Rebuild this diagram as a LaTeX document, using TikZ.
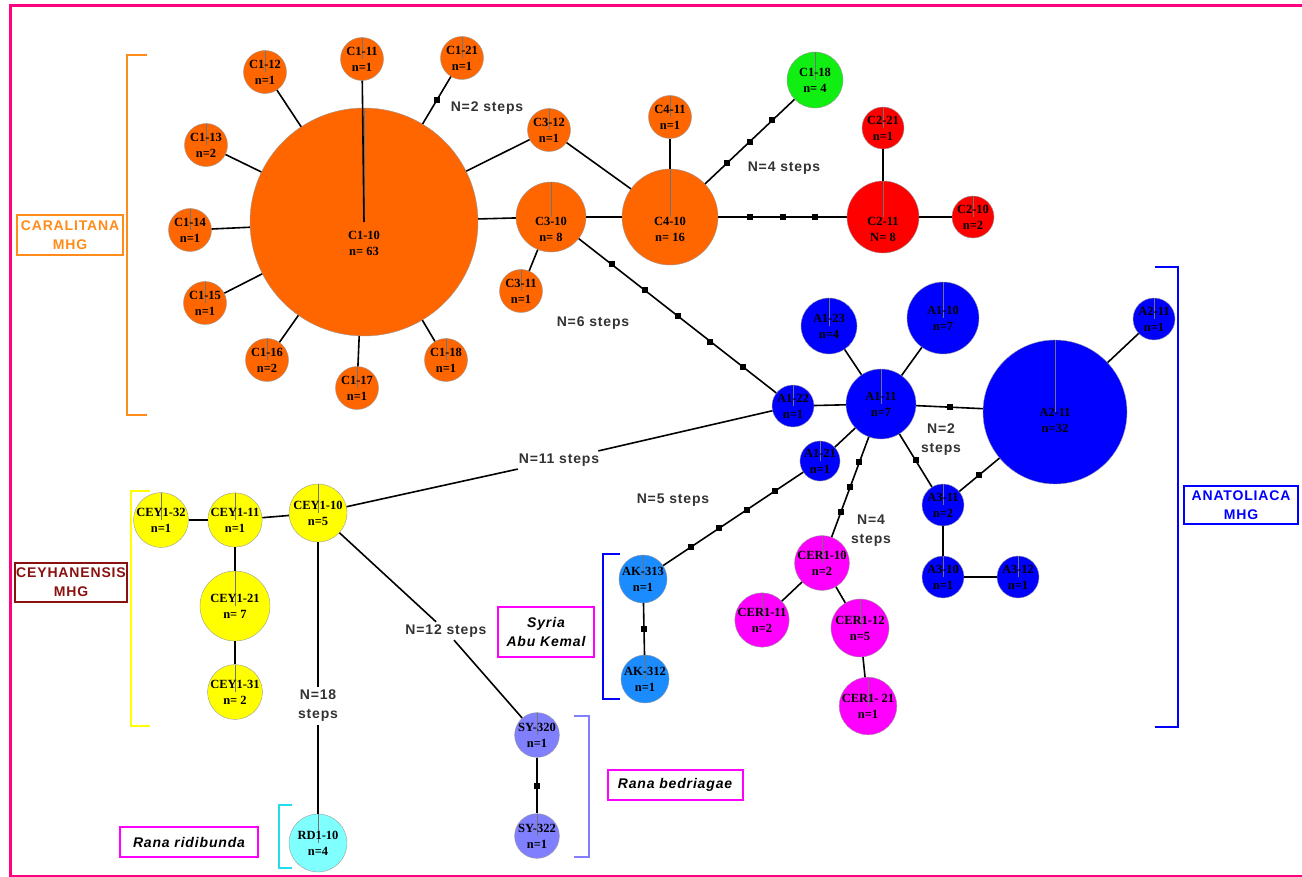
\documentclass[tikz,border=0pt]{standalone}
\usepackage{fontspec}
\setmainfont{Liberation Serif}
\setsansfont{Liberation Sans}
\newfontfamily\stepfont[LetterSpace=6]{Liberation Sans}
\usepackage{tikz}
\usetikzlibrary{positioning}

\definecolor{haporange}{HTML}{FF6600}
\definecolor{hapgreen}{HTML}{11EE11}
\definecolor{hapred}{HTML}{FF0000}
\definecolor{hapblue}{HTML}{0000FF}
\definecolor{hapsky}{HTML}{1A8CFF}
\definecolor{hapmagenta}{HTML}{FF00FF}
\definecolor{hapyellow}{HTML}{FFFF00}
\definecolor{haplilac}{HTML}{8080FF}
\definecolor{hapcyan}{HTML}{80FFFF}
\definecolor{framepink}{HTML}{FF0080}
\definecolor{grporange}{HTML}{FF8C1A}
\definecolor{grpred}{HTML}{8B1010}
\definecolor{brkcyan}{HTML}{22DDEE}

\begin{document}
\begin{tikzpicture}[
		x=1pt,
		y=-1pt,
		line width=1.6pt
		]
		\useasboundingbox (0,0) rectangle (1302,877);
		\tikzstyle{hap}=[
			circle,
			draw=black!40,
			line width=0.4pt,
			inner sep=0pt,
			align=center,
			font=\bfseries\fontsize{12.5}{16}\selectfont,
			path picture={\draw[line width=0.5pt, black!55] (path picture bounding box.north) -- (path picture bounding box.center);}
		]
		\tikzstyle{hap label}=[
			align=center,
			font=\bfseries\fontsize{12.5}{16}\selectfont
		]
		\tikzstyle{orange hap}=[hap, fill=haporange]
		\tikzstyle{green hap}=[hap, fill=hapgreen]
		\tikzstyle{red hap}=[hap, fill=hapred]
		\tikzstyle{blue hap}=[hap, fill=hapblue]
		\tikzstyle{sky hap}=[hap, fill=hapsky]
		\tikzstyle{magenta hap}=[hap, fill=hapmagenta]
		\tikzstyle{yellow hap}=[hap, fill=hapyellow]
		\tikzstyle{lilac hap}=[hap, fill=haplilac]
		\tikzstyle{cyan hap}=[hap, fill=hapcyan]
		\tikzstyle{stepmark}=[
			rectangle,
			fill=black,
			minimum size=6pt,
			inner sep=0pt
		]
		\tikzstyle{steps}=[
			align=center,
			text=black!80,
			inner sep=2pt,
			font=\stepfont\bfseries\fontsize{14}{19}\selectfont
		]
		\tikzstyle{group}=[
			draw,
			line width=2pt,
			align=center,
			inner sep=1pt,
			font=\stepfont\bfseries\fontsize{14}{19}\selectfont
		]
		\tikzstyle{bracket}=[
			line width=2.5pt
		]
		% Draw the frame.
			\draw[framepink, line width=3pt] (1302,6) -- (10,6) -- (10,876) -- (1302,876);
		% Draw the CARALITANA haplotypes.
			\node[orange hap, minimum size=228pt, label={[hap label, yshift=-21pt]center:{C1-10\\n= 63}}] (C1-10) at (364,222) {};
			\foreach \name / \x / \y / \n in {C1-11/362/59/1, C1-12/265/72/1, C1-13/206/145/2, C1-14/190/230/1, C1-15/205/303/1, C1-16/267/360/2, C1-17/357/388/1, C1-18/446/360/1, C1-21/462/58/1, C3-12/549/130/1, C3-11/521/291/1, C4-11/670/117/1}
				\node[orange hap, minimum size=43pt] (\name) at (\x,\y) {\name\\n=\n};
			\node[orange hap, minimum size=70pt, label={[hap label, yshift=-12pt]center:{C3-10\\n= 8}}] (C3-10) at (551,217) {};
			\node[orange hap, minimum size=96pt, label={[hap label, yshift=-12pt]center:{C4-10\\n= 16}}] (C4-10) at (670,217) {};
			\node[green hap, minimum size=56pt] (C1-18g) at (815,80) {C1-18\\n= 4};
			\node[red hap, minimum size=42pt] (C2-21) at (883,128) {C2-21\\n=1};
			\node[red hap, minimum size=72pt, label={[hap label, yshift=-12pt]center:{C2-11\\N= 8}}] (C2-11) at (883,217) {};
			\node[red hap, minimum size=42pt] (C2-10) at (973,217) {C2-10\\n=2};
		% Draw the ANATOLIACA haplotypes.
			\node[blue hap, minimum size=144pt, label={[hap label, yshift=-8pt]center:{A2-11\\n=32}}] (A2-11) at (1055,412) {};
			\foreach \name / \x / \y / \d / \n in {A1-22/793/406/42/1, A1-23/829/326/56/4, A1-11/881/404/70/7, A1-10/943/318/72/7, A1-21/820/461/40/1, A3-11/943/505/42/2, A3-10/943/577/42/1, A3-12/1018/577/42/1}
				\node[blue hap, minimum size=\d pt] (\name) at (\x,\y) {\name\\n=\n};
			\node[blue hap, minimum size=42pt] (A2-11b) at (1154,319) {A2-11\\n=1};
			\node[sky hap, minimum size=42pt] (AK-313) at (643,579) {AK-313\\n=1};
			\node[sky hap, minimum size=42pt] (AK-312) at (645,679) {AK-312\\n=1};
			\node[magenta hap, minimum size=42pt] (CER1-10) at (822,563) {CER1-10\\n=2};
			\node[magenta hap, minimum size=42pt] (CER1-11) at (762,620) {CER1-11\\n=2};
			\node[magenta hap, minimum size=58pt] (CER1-12) at (860,628) {CER1-12\\n=5};
			\node[magenta hap, minimum size=42pt] (CER1-21) at (868,706) {CER1- 21\\n=1};
		% Draw the CEYHANENSIS haplotypes and the outgroups.
			\node[yellow hap, minimum size=42pt] (CEY1-32) at (161,520) {CEY1-32\\n=1};
			\node[yellow hap, minimum size=44pt] (CEY1-11) at (235,520) {CEY1-11\\n=1};
			\node[yellow hap, minimum size=58pt] (CEY1-10) at (318,513) {CEY1-10\\n=5};
			\node[yellow hap, minimum size=70pt] (CEY1-21) at (235,606) {CEY1-21\\n= 7};
			\node[yellow hap, minimum size=44pt] (CEY1-31) at (235,692) {CEY1-31\\n= 2};
			\node[cyan hap, minimum size=58pt] (RD1-10) at (318,843) {RD1-10\\n=4};
			\node[lilac hap, minimum size=42pt] (SY-320) at (537,735) {SY-320\\n=1};
			\node[lilac hap, minimum size=42pt] (SY-322) at (537,836) {SY-322\\n=1};
		% Step labels.
			\node[steps] (n2c) at (487,108) {N=2 steps};
			\node[steps] (n4c) at (784,168) {N=4 steps};
			\node[steps] (n6) at (593,323) {N=6 steps};
			\node[steps] (n2a) at (941,440) {N=2\\steps};
			\node[steps] (n5) at (673,500) {N=5 steps};
			\node[steps] (n4a) at (871,531) {N=4\\steps};
			\node[steps, fill=white] (n11) at (559,460) {N=11 steps};
			\node[steps, fill=white] (n12) at (446,631) {N=12 steps};
			\node[steps, fill=white] (n18) at (318,706) {N=18\\steps};
		% Connect the haplotypes.
			\draw (C1-11) -- (C1-10.center);
			\foreach \source in {C1-12, C1-13, C1-14, C1-15, C1-16, C1-17, C1-18, C3-12, C3-10}
				\draw (\source) -- (C1-10);
			\foreach \source / \target in {C3-10/C3-11, C3-10/C4-10, C3-12/C4-10, C4-11/C4-10, C2-21/C2-11, C2-11/C2-10, A1-22/A1-11, A1-23/A1-11, A1-10/A1-11, A1-21/A1-11, A2-11/A2-11b, A3-11/A3-10, A3-10/A3-12, CER1-10/CER1-11, CER1-10/CER1-12, CER1-12/CER1-21, CEY1-32/CEY1-11, CEY1-11/CEY1-10, CEY1-11/CEY1-21, CEY1-21/CEY1-31}
				\draw (\source) -- (\target);
			\draw (CEY1-10) -- (n11) -- (A1-22);
			\draw (CEY1-10) -- (n12) -- (SY-320);
			\draw (CEY1-10) -- (n18) -- (RD1-10);
		% Connections with intermediate steps.
			\foreach \source / \target in {C1-10/C1-21, A1-11/A2-11, A1-11/A3-11, A3-11/A2-11, AK-313/AK-312, SY-320/SY-322}
				\draw (\source) -- (\target) node[stepmark, pos=0.5] {};
			\draw (C4-10) -- (C1-18g);
			\draw (C4-10) -- (C2-11);
			\draw (C3-10) -- (A1-22);
			\draw (A1-21) -- (AK-313);
			\draw (A1-11) -- (CER1-10);
			\foreach \p in {0.25, 0.5, 0.75} {
				\path (C4-10) -- (C1-18g) node[stepmark, pos=\p] {};
				\path (C4-10) -- (C2-11) node[stepmark, pos=\p] {};
				\path (A1-11) -- (CER1-10) node[stepmark, pos=\p] {};
			}
			\foreach \p in {0.2, 0.4, 0.6, 0.8}
				\path (A1-21) -- (AK-313) node[stepmark, pos=\p] {};
			\foreach \p in {0.1667, 0.3333, 0.5, 0.6667, 0.8333}
				\path (C3-10) -- (A1-22) node[stepmark, pos=\p] {};
		% Draw the groups and their brackets.
			\node[group, draw=grporange, text=grporange, minimum width=106pt, minimum height=40pt] (caralitana) at (70,235) {CARALITANA\\MHG};
			\node[group, draw=grpred, text=grpred, minimum width=111pt, minimum height=39pt] (ceyhanensis) at (71,582) {CEYHANENSIS\\MHG};
			\node[group, draw=hapblue, text=hapblue, minimum width=114pt, minimum height=38pt] (anatoliaca) at (1241,505) {ANATOLIACA\\MHG};
			\node[group, draw=hapmagenta, font=\stepfont\bfseries\itshape\fontsize{14}{19}\selectfont, minimum width=96pt, minimum height=50pt] (syria) at (546,632) {Syria\\Abu Kemal};
			\node[group, draw=hapmagenta, font=\stepfont\bfseries\itshape\fontsize{14}{19}\selectfont, minimum width=135pt, minimum height=30pt] (bedriagae) at (675,785) {Rana bedriagae};
			\node[group, draw=hapmagenta, font=\stepfont\bfseries\itshape\fontsize{14}{19}\selectfont, minimum width=138pt, minimum height=30pt] (ridibunda) at (189,842) {Rana ridibunda};
			\draw[bracket, grporange] (147,55) -- (127,55) -- (127,415) -- (147,415);
			\draw[bracket, hapyellow] (150,491) -- (131,491) -- (131,726) -- (150,726);
			\draw[bracket, hapblue] (1155,267) -- (1178,267) -- (1178,727) -- (1155,727);
			\draw[bracket, hapblue] (620,554) -- (603,554) -- (603,699) -- (620,699);
			\draw[bracket, haplilac] (574,716) -- (589,716) -- (589,857) -- (574,857);
			\draw[bracket, brkcyan] (292,805) -- (279,805) -- (279,868) -- (292,868);
	\end{tikzpicture}
\end{document}
